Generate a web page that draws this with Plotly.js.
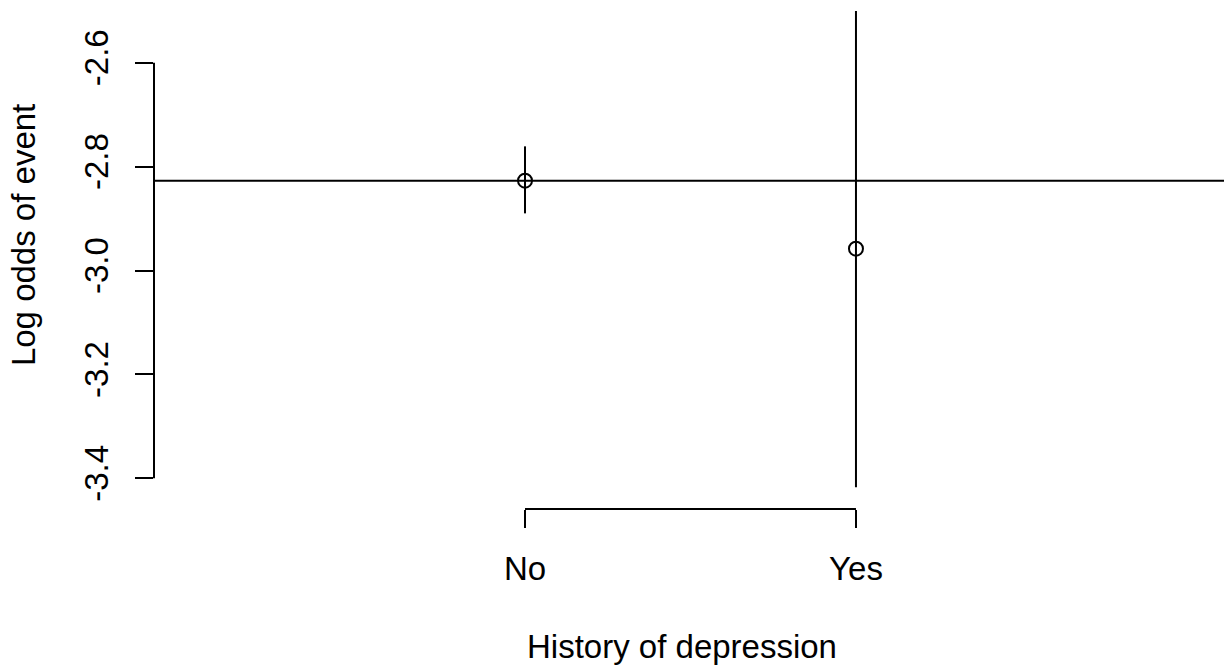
<!DOCTYPE html>
<html>
<head>
<meta charset="utf-8">
<script src="https://cdn.plot.ly/plotly-3.0.1.min.js"></script>
<style>
  html, body { margin: 0; padding: 0; background: #fff; }
  #chart { width: 1224px; height: 668px; }
</style>
</head>
<body>
<div id="chart"></div>
<script>
// Estimates
const groups = ['No', 'Yes'];
const groupPos = [1, 2];
const logOdds = [-2.827, -2.958];
const ciLower = [-2.890, -3.417];
const ciUpper = [-2.761, -2.500];
const refLevel = -2.827;
const yTicks = [-2.6, -2.8, -3.0, -3.2, -3.4];

const font = 'Liberation Sans, Arial, sans-serif';
const fs = 33;

// point estimates with confidence intervals
const trace = {
    x: groupPos,
    y: logOdds,
    type: 'scatter',
    mode: 'markers',
    marker: { symbol: 'circle-open', size: 14, color: '#000', line: { width: 2, color: '#000' } },
    error_y: {
        type: 'data',
        symmetric: false,
        array: ciUpper.map((u, i) => u - logOdds[i]),
        arrayminus: ciLower.map((l, i) => logOdds[i] - l),
        width: 0,
        thickness: 2,
        color: '#000',
    },
    cliponaxis: false,
    hoverinfo: 'x+y',
};

const layout = {
    width: 1224,
    height: 668,
    margin: { l: 154, r: 0, t: 11, b: 159 },
    paper_bgcolor: '#fff',
    plot_bgcolor: '#fff',
    showlegend: false,
    font: { family: font, size: fs, color: '#000' },
    xaxis: {
        range: [-0.121, 3.112],
        tickvals: groupPos,
        ticktext: groups,
        ticks: 'outside',
        ticklen: 18,
        tickwidth: 2,
        tickcolor: '#000',
        ticklabelstandoff: 12,
        showgrid: false,
        zeroline: false,
        showline: false,
        tickfont: { family: font, size: fs },
    },
    yaxis: {
        range: [-3.459, -2.5005],
        tickvals: yTicks,
        ticktext: yTicks.map(v => v.toFixed(1)),
        tickangle: -90,
        ticks: 'outside',
        ticklen: 18,
        tickwidth: 2,
        tickcolor: '#000',
        ticklabelstandoff: 14,
        showgrid: false,
        zeroline: false,
        showline: false,
        tickfont: { family: font, size: fs },
    },
    // axis titles placed like R's mtext
    annotations: [
        { text: 'History of depression', xref: 'paper', yref: 'paper', x: 0.493, y: 0,
          xanchor: 'center', yanchor: 'middle', yshift: -137, showarrow: false,
          font: { family: font, size: fs } },
        { text: 'Log odds of event', xref: 'paper', yref: 'paper', x: 0, y: 0.55,
          xanchor: 'center', yanchor: 'middle', xshift: -131, textangle: -90, showarrow: false,
          font: { family: font, size: fs } },
    ],
    shapes: [
        // reference line across the plot
        { type: 'line', xref: 'paper', x0: 0, x1: 1, yref: 'y', y0: refLevel, y1: refLevel, line: { color: '#000', width: 2 } },
        // R style axis lines spanning the ticks only
        { type: 'line', xref: 'paper', x0: 0, x1: 0, yref: 'y', y0: yTicks[0], y1: yTicks[yTicks.length - 1], line: { color: '#000', width: 2 } },
        { type: 'line', xref: 'x', x0: groupPos[0], x1: groupPos[groupPos.length - 1], yref: 'paper', y0: 0, y1: 0, line: { color: '#000', width: 2 } },
    ],
};

Plotly.newPlot('chart', [trace], layout, { displayModeBar: false, staticPlot: true });
</script>
</body>
</html>
